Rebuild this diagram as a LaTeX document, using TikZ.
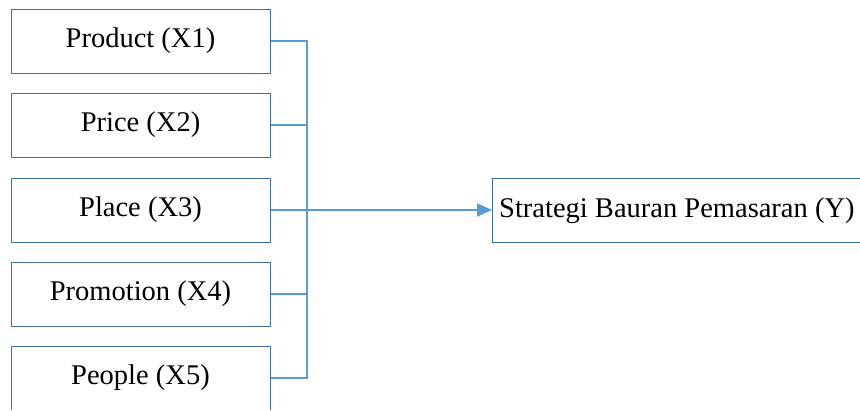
\documentclass[tikz,border=0pt]{standalone}
\usepackage{fontspec}
\setmainfont{Liberation Serif}
\usetikzlibrary{arrows.meta}
\definecolor{boxline}{HTML}{41719C}
\definecolor{linkline}{HTML}{5B9BD5}
\tikzset{
  labelfont/.style={font=\fontsize{28.5}{32}\selectfont},
  varbox/.style={draw=boxline, line width=1pt, fill=white, minimum width=259pt,
    minimum height=64pt, inner sep=0pt, labelfont},
  link/.style={draw=linkline, line width=1.8pt},
  arrowhead/.style={-{Triangle[length=15pt,width=13pt]}}
}
\begin{document}
\begin{tikzpicture}[x=1pt,y=-1pt]
  \useasboundingbox (0,0) rectangle (860,410);
  \clip (0,0) rectangle (860,409.5);
  % input variables
  \node[varbox] (b1) at (140.5,41) {Product (X1)};
  \node[varbox] (b2) at (140.5,125) {Price (X2)};
  \node[varbox] (b3) at (140.5,210) {Place (X3)};
  \node[varbox] (b4) at (140.5,294) {Promotion (X4)};
  \node[varbox] (b5) at (140.5,378) {People (X5)};
  % outcome box, running past the right edge
  \node[varbox, minimum width=380pt, anchor=west] (outcome) at (492,210) {};
  \node[labelfont, anchor=west, inner sep=0pt] (outtext) at (499,211) {Strategi Bauran Pemasaran (Y)};
  % collecting bus
  \coordinate (bus) at (307,0);
  \draw[link] (b1.east) -- (b1.east -| bus) -- (b5.east -| bus) -- (b5.east);
  \draw[link] (b2.east) -- (b2.east -| bus);
  \draw[link] (b4.east) -- (b4.east -| bus);
  \draw[link, arrowhead] (b3.east) -- (outcome.west);
\end{tikzpicture}
\end{document}
